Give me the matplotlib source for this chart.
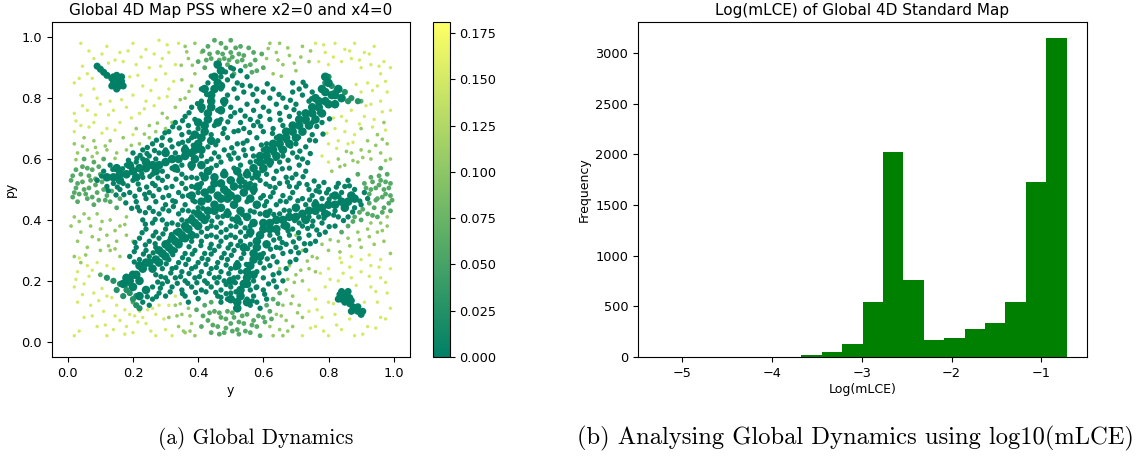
"""
plot.py - Global 4D Map PSS and histogram of Log(mLCE)
Points read off the reference by eye, grouped by colour value.
"""
import numpy as np
import matplotlib
matplotlib.use('Agg')
import matplotlib.pyplot as plt

# dense ridges of the map (mLCE about zero)
RIDGES = [(.17,.19),(.19,.2),(.21,.22),(.23,.24),(.25,.26),(.27,.27),(.29,.29),(.31,.31),(.33,.33),(.35,.35),
 (.37,.37),(.39,.39),(.41,.41),(.43,.43),(.45,.45),(.47,.47),(.49,.49),(.51,.51),(.53,.53),(.55,.55),
 (.57,.57),(.59,.59),(.61,.61),(.63,.63),(.65,.65),(.67,.67),(.69,.69),(.71,.71),(.73,.73),(.75,.75),
 (.77,.77),(.79,.79),(.81,.81),(.83,.83),
 (.46,.91),(.47,.89),(.45,.87),(.46,.85),(.45,.83),(.44,.81),(.44,.79),(.44,.77),(.43,.75),(.43,.73),
 (.42,.71),(.42,.69),(.41,.67),(.40,.65),(.39,.63),(.38,.62),(.36,.61),(.34,.6),(.32,.6),(.3,.59),
 (.28,.58),(.26,.58),(.24,.57),(.22,.57),(.2,.56),(.18,.55),(.16,.55),(.14,.54),(.12,.54),
 (.52,.11),(.52,.13),(.53,.15),(.53,.17),(.54,.19),(.55,.21),(.55,.23),(.56,.25),(.57,.27),(.57,.29),
 (.58,.31),(.58,.33),(.59,.35),(.6,.37),(.6,.39),(.62,.39),(.64,.4),(.66,.4),(.68,.41),(.7,.41),
 (.72,.42),(.74,.43),(.76,.43),(.78,.44),(.8,.45),(.82,.45),(.84,.46),(.86,.46),(.88,.47),
 (.39,.6),(.41,.58),(.43,.56),(.45,.54),(.47,.52),(.49,.47),(.51,.45),(.53,.43),(.55,.41),(.57,.39),
 (.44,.5),(.46,.48),(.48,.5),(.5,.48),(.52,.47),(.43,.47),(.47,.44),(.45,.52),(.5,.53),(.54,.49),
 (.78,.83),(.8,.85),(.79,.87),(.82,.81),(.84,.8),(.76,.8),(.24,.17),(.22,.15),(.2,.18),(.22,.2),
 (.42,.49),(.4,.51),(.41,.46),(.38,.48),(.56,.47),(.58,.45),(.55,.51),(.57,.5),(.52,.56),(.48,.55),
 (.45,.43),(.49,.42),(.52,.4),(.42,.54),(.38,.58),(.36,.63),(.41,.63),(.62,.37),(.61,.42),(.64,.37),
 (.18,.21),(.2,.22),(.22,.25),(.24,.26),(.26,.24),(.28,.26),(.3,.28),(.32,.3),(.34,.32),(.36,.34),
 (.38,.35),(.4,.38),(.42,.4),(.28,.3),(.3,.32),(.32,.34),(.34,.36),(.36,.38),(.38,.4),(.4,.42),
 (.59,.61),(.61,.63),(.63,.65),(.65,.67),(.67,.69),(.69,.71),(.71,.73),(.73,.75),(.75,.77),(.77,.79),
 (.58,.55),(.6,.57),(.62,.59),(.64,.61),(.66,.63),(.68,.65),(.7,.67),(.72,.69),(.74,.71),(.76,.73),
 (.78,.75),(.8,.78),(.82,.78),(.79,.82),(.47,.84),(.48,.79),(.47,.76),(.42,.83),(.41,.77),(.46,.72),
 (.4,.72),(.39,.68),(.44,.66),(.55,.19),(.5,.2),(.57,.22),(.52,.25),(.59,.28),(.54,.31),(.61,.32),
 (.56,.36),(.5,.14),(.55,.13),(.3,.62),(.27,.56),(.24,.59),(.21,.54),(.19,.58),(.16,.53),(.15,.57),
 (.33,.57),(.7,.44),(.73,.4),(.76,.45),(.79,.42),(.82,.48),(.85,.44),(.87,.48),(.67,.38)]

BLOBS = [(.09,.905),(.1,.895),(.11,.885),(.12,.875),(.135,.865),(.15,.86),(.165,.855),(.15,.84),(.16,.84),
 (.14,.85),(.14,.87),(.165,.87),(.135,.84),(.17,.84),(.15,.83),(.15,.875),
 (.835,.155),(.85,.15),(.865,.145),(.85,.135),(.84,.14),(.865,.125),(.88,.105),(.89,.1),(.9,.09),(.875,.115),
 (.84,.165),(.86,.165),(.83,.14),(.87,.135),(.85,.13),(.89,.115),(.87,.1),(.905,.1)]

# corner wedges of the ridges
WEDGES = [(.12,.21),(.14,.2),(.16,.19),(.18,.17),(.2,.14),(.21,.12),(.15,.17),(.17,.15),(.19,.16),(.21,.15),
 (.22,.11),(.18,.19),(.8,.87),(.81,.84),(.83,.83),(.85,.82),(.87,.8),(.84,.8),(.82,.82),(.79,.85),(.86,.79),(.89,.79)]

# scattered chaotic cloud around the ridges
CLOUD = [(.49,.86),(.52,.85),(.55,.87),(.51,.83),(.54,.82),(.69,.85),(.71,.83),(.73,.84),(.69,.82),(.72,.81),
 (.75,.82),(.47,.83),(.49,.81),(.52,.8),(.56,.84),(.58,.83),(.6,.82),(.63,.83),(.66,.8),(.62,.8),
 (.58,.79),(.55,.78),(.48,.78),(.5,.77),(.46,.76),(.53,.76),(.57,.76),(.6,.77),(.64,.78),(.67,.77),
 (.7,.78),(.74,.79),(.47,.73),(.5,.74),(.53,.72),(.56,.73),(.59,.74),(.62,.73),(.65,.75),(.68,.74),
 (.71,.75),(.75,.72),(.78,.72),(.41,.76),(.39,.73),(.4,.7),(.37,.71),(.45,.71),(.48,.7),(.51,.69),
 (.54,.7),(.57,.71),(.6,.69),(.63,.7),(.66,.71),(.69,.7),(.72,.69),(.75,.68),(.35,.68),(.37,.66),
 (.34,.65),(.38,.67),(.44,.68),(.46,.66),(.49,.67),(.52,.65),(.55,.66),(.58,.67),(.61,.65),(.64,.67),
 (.67,.66),(.7,.65),(.73,.64),(.76,.66),(.32,.64),(.3,.63),(.28,.62),(.33,.62),(.36,.64),(.43,.64),
 (.45,.62),(.48,.63),(.51,.62),(.54,.63),(.57,.61),(.6,.63),(.63,.62),(.66,.61),(.69,.62),(.72,.6),
 (.25,.61),(.27,.6),(.23,.6),(.21,.59),(.35,.58),(.38,.57),(.41,.61),(.44,.6),(.47,.59),(.5,.6),
 (.53,.58),(.56,.59),(.59,.6),(.62,.58),(.65,.59),(.68,.57),(.71,.58),(.15,.57),(.18,.58),(.26,.55),
 (.29,.56),(.32,.57),(.35,.55),(.38,.54),(.41,.55),(.44,.57),(.48,.56),(.51,.57),(.55,.56),(.58,.54),
 (.61,.55),(.64,.56),(.67,.54),(.7,.55),(.73,.56),(.14,.52),(.17,.52),(.2,.53),(.23,.54),(.26,.52),
 (.29,.53),(.32,.51),(.35,.52),(.38,.51),(.41,.52),(.53,.51),(.56,.52),(.59,.53),(.62,.51),(.65,.52),
 (.68,.51),(.71,.52),(.74,.5),(.77,.51),(.8,.5),(.16,.5),(.19,.49),(.22,.5),(.25,.49),(.28,.5),
 (.31,.48),(.34,.49),(.37,.48),(.4,.49),(.57,.49),(.6,.48),(.63,.49),(.66,.48),(.69,.49),(.72,.47),
 (.75,.48),(.78,.47),(.81,.48),(.84,.49),(.21,.46),(.24,.47),(.27,.46),(.3,.45),(.33,.46),(.36,.45),
 (.39,.46),(.55,.46),(.58,.45),(.61,.46),(.64,.45),(.67,.46),(.7,.44),(.73,.45),(.76,.46),(.82,.43),
 (.85,.44),(.88,.44),(.22,.43),(.25,.44),(.28,.42),(.31,.43),(.34,.42),(.37,.43),(.4,.44),(.43,.41),
 (.46,.41),(.49,.43),(.52,.41),(.56,.43),(.59,.42),(.62,.43),(.65,.42),(.68,.43),(.71,.39),(.74,.41),
 (.77,.41),(.8,.42),(.23,.4),(.26,.39),(.29,.4),(.32,.39),(.35,.4),(.38,.41),(.44,.38),(.47,.39),
 (.5,.38),(.53,.39),(.56,.38),(.63,.37),(.66,.38),(.69,.37),(.72,.38),(.75,.38),(.78,.39),(.24,.37),
 (.27,.36),(.3,.37),(.33,.36),(.36,.37),(.41,.36),(.44,.35),(.47,.36),(.5,.35),(.53,.36),(.56,.35),
 (.62,.35),(.65,.34),(.68,.35),(.71,.34),(.74,.35),(.22,.34),(.25,.33),(.28,.34),(.31,.33),(.38,.33),
 (.41,.33),(.44,.32),(.47,.33),(.5,.32),(.53,.33),(.56,.32),(.61,.32),(.64,.31),(.67,.32),(.7,.31),
 (.21,.31),(.24,.3),(.27,.31),(.33,.3),(.36,.29),(.39,.3),(.42,.29),(.45,.3),(.48,.29),(.51,.3),
 (.54,.29),(.6,.29),(.63,.28),(.66,.29),(.19,.28),(.22,.27),(.25,.28),(.31,.27),(.34,.26),(.37,.27),
 (.4,.26),(.43,.27),(.46,.26),(.49,.27),(.52,.26),(.59,.26),(.62,.25),(.29,.24),(.32,.24),(.35,.23),
 (.38,.24),(.41,.23),(.44,.24),(.47,.23),(.5,.24),(.53,.23),(.58,.23),(.6,.21),(.27,.22),(.3,.21),
 (.33,.21),(.36,.2),(.39,.21),(.42,.2),(.45,.21),(.48,.2),(.51,.21),(.57,.2),(.26,.18),(.29,.19),
 (.32,.18),(.35,.17),(.38,.18),(.41,.17),(.44,.18),(.47,.17),(.5,.18),(.56,.17),(.58,.18),(.28,.16),
 (.3,.15),(.36,.15),(.37,.13),(.46,.15),(.49,.14),(.5,.16),(.55,.14),(.57,.15),(.6,.17),(.58,.13),
 (.26,.14),(.23,.13),(.25,.12),(.47,.13),(.56,.12),(.59,.11),(.61,.14),(.64,.18),(.66,.2),(.63,.22),
 (.67,.24),(.7,.27),(.73,.3),(.76,.33),(.79,.36),(.82,.38),(.86,.41),(.83,.41),(.9,.45),(.92,.47),
 (.91,.49),(.88,.5),(.85,.51),(.86,.53),(.83,.52),(.2,.62),(.23,.63),(.26,.65),(.29,.67),(.31,.69),
 (.33,.72),(.36,.74),(.38,.77),(.41,.79),(.41,.83),(.43,.85),(.47,.87),(.5,.9),(.53,.89),(.11,.56),
 (.13,.58),(.12,.51),(.09,.53)]

# in-between points of the same cloud, less regular
CLOUD_EXTRA = [(.505,.873),(.535,.842),(.568,.812),(.612,.847),(.648,.812),(.683,.793),(.722,.852),(.748,.798),(.772,.752),(.803,.732),
 (.512,.752),(.544,.741),(.583,.722),(.617,.757),(.652,.728),(.694,.762),(.728,.723),(.764,.707),(.491,.722),(.523,.693),
 (.558,.687),(.592,.708),(.628,.684),(.677,.693),(.708,.671),(.742,.662),(.783,.682),(.372,.688),(.352,.655),(.385,.645),
 (.454,.647),(.476,.684),(.503,.637),(.538,.652),(.566,.634),(.594,.646),(.626,.643),(.652,.636),(.684,.642),(.712,.626),
 (.744,.618),(.266,.628),(.288,.645),(.314,.662),(.342,.702),(.243,.618),(.222,.612),(.463,.607),(.494,.612),(.523,.603),
 (.545,.612),(.578,.593),(.606,.592),(.638,.602),(.676,.596),(.704,.606),(.736,.588),(.168,.568),(.196,.576),(.227,.552),
 (.252,.543),(.277,.538),(.306,.543),(.337,.563),(.363,.538),(.396,.537),(.427,.592),(.456,.579),(.528,.546),(.566,.537),
 (.596,.562),(.632,.536),(.658,.568),(.688,.538),(.722,.542),(.756,.528),(.786,.523),(.152,.508),(.184,.512),(.216,.518),
 (.242,.508),(.268,.513),(.302,.506),(.332,.534),(.362,.503),(.392,.506),(.544,.523),(.574,.514),(.608,.518),(.636,.506),
 (.674,.524),(.702,.508),(.734,.516),(.762,.496),(.794,.489),(.824,.508),(.172,.483),(.206,.478),(.236,.484),(.262,.479),
 (.292,.474),(.322,.463),(.352,.478),(.384,.464),(.414,.438),(.592,.472),(.622,.476),(.652,.462),(.682,.472),(.706,.463),
 (.742,.466),(.772,.492),(.802,.468),(.832,.476),(.864,.512),(.214,.442),(.238,.424),(.262,.428),(.292,.436),(.324,.444),
 (.352,.432),(.386,.426),(.418,.402),(.442,.396),(.476,.412),(.504,.403),(.536,.418),(.572,.426),(.604,.447),(.632,.418),
 (.664,.432),(.696,.398),(.724,.403),(.752,.396),(.786,.406),(.816,.416),(.238,.386),(.268,.402),(.304,.386),(.338,.384),
 (.366,.396),(.428,.372),(.456,.376),(.486,.368),(.516,.378),(.544,.374),(.644,.356),(.676,.364),(.708,.358),(.736,.372),
 (.764,.367),(.228,.358),(.262,.348),(.292,.354),(.318,.352),(.348,.334),(.396,.348),(.426,.346),(.456,.344),(.486,.343),
 (.514,.343),(.546,.346),(.632,.334),(.658,.326),(.692,.328),(.726,.322),(.206,.326),(.238,.318),(.268,.322),(.306,.318),
 (.372,.312),(.408,.316),(.436,.308),(.464,.314),(.492,.308),(.522,.316),(.552,.306),(.622,.304),(.652,.308),(.684,.296),
 (.204,.296),(.232,.288),(.262,.292),(.322,.286),(.352,.276),(.382,.288),(.412,.274),(.44,.288),(.472,.276),(.502,.284),
 (.532,.274),(.612,.272),(.642,.262),(.204,.262),(.236,.252),(.302,.256),(.332,.244),(.362,.254),(.392,.246),(.424,.254),
 (.456,.244),(.486,.252),(.514,.243),(.548,.254),(.602,.242),(.286,.214),(.316,.226),(.346,.214),(.372,.224),(.404,.214),
 (.434,.224),(.464,.212),(.494,.224),(.522,.212),(.276,.196),(.306,.198),(.336,.192),(.368,.192),(.396,.194),(.428,.192),
 (.458,.194),(.486,.188),(.514,.194),(.578,.178),(.284,.176),(.314,.164),(.352,.158),(.392,.162),(.424,.164),(.454,.162),
 (.486,.158),(.516,.164),(.566,.134),(.604,.156),(.272,.148),(.244,.148),(.4,.142),(.47,.146),(.616,.19),(.632,.2),
 (.648,.226),(.682,.262),(.708,.292),(.744,.322),(.772,.352),(.802,.378),(.846,.398),(.874,.426),(.896,.462),(.212,.602),
 (.186,.596),(.244,.638),(.272,.662),(.298,.686),(.322,.706),(.352,.726),(.372,.752),(.398,.782),(.426,.812),(.44,.872),
 (.508,.896),(.484,.886),(.138,.566),(.104,.544),(.124,.496),(.148,.482),(.178,.456),(.196,.438)]

# green halo next to the cloud (value about 0.05)
HALO = [(.44,.93),(.46,.95),(.48,.93),(.5,.95),(.52,.92),(.54,.94),(.56,.91),(.47,.98),(.5,.99),(.53,.97),
 (.43,.97),(.45,.99),(.57,.95),(.49,.91),(.51,.88),(.42,.9),(.4,.92),(.58,.89),(.6,.9),
 (.03,.52),(.05,.5),(.07,.53),(.09,.49),(.11,.5),(.04,.55),(.06,.57),(.08,.59),(.1,.55),(.12,.48),
 (.02,.49),(.03,.46),(.06,.47),(.08,.45),(.01,.53),(.05,.6),(.13,.46),(.15,.44),(.16,.47),(.11,.6),
 (.93,.5),(.95,.47),(.97,.5),(.99,.48),(.94,.44),(.96,.53),(.98,.55),(.92,.42),(.9,.4),(.88,.41),
 (.95,.41),(.97,.44),(.99,.52),(.93,.54),(.91,.52),(.89,.55),(.86,.38),(.84,.36),(.96,.57),(.99,.43),
 (.44,.03),(.46,.05),(.48,.03),(.5,.06),(.52,.04),(.54,.06),(.56,.03),(.58,.05),(.47,.08),(.49,.1),
 (.51,.08),(.55,.09),(.57,.07),(.45,.1),(.43,.07),(.6,.08),(.62,.1),(.59,.02),(.41,.05),(.42,.12),
 (.44,.13),(.61,.12),(.63,.14),(.65,.16),(.4,.14),
 (.1,.22),(.2,.13),(.9,.79),
 (.455,.915),(.475,.945),(.495,.925),(.515,.965),(.535,.925),(.555,.965),(.575,.925),(.595,.945),(.435,.945),(.415,.955),
 (.485,.965),(.465,.925),(.505,.935),(.525,.945),(.545,.905),(.565,.885),(.425,.925),(.025,.505),(.045,.525),(.065,.505),
 (.085,.515),(.105,.525),(.035,.485),(.055,.485),(.075,.475),(.095,.465),(.115,.465),(.025,.565),(.045,.575),(.065,.545),
 (.085,.535),(.015,.475),(.135,.495),(.015,.545),(.075,.565),(.095,.575),(.925,.485),(.945,.505),(.965,.475),(.985,.505),
 (.905,.435),(.925,.455),(.945,.465),(.965,.425),(.985,.455),(.915,.505),(.935,.525),(.955,.545),(.975,.525),(.995,.465),
 (.875,.395),(.895,.425),(.935,.415),(.975,.485),(.955,.515),(.445,.055),(.465,.025),(.485,.075),(.505,.035),(.525,.065),
 (.545,.035),(.565,.055),(.585,.085),(.605,.065),(.465,.095),(.505,.095),(.535,.085),(.435,.095),(.415,.085),(.625,.075),
 (.485,.045),(.525,.025),(.645,.125),(.395,.105)]

# lighter greens towards the box edges (value about 0.1)
PALE = [(.32,.72),(.3,.7),(.27,.69),(.25,.67),(.22,.65),(.18,.63),(.15,.62),(.12,.63),(.09,.62),(.06,.63),
 (.03,.62),(.02,.65),(.05,.67),(.08,.66),(.13,.66),(.17,.67),(.21,.7),(.25,.71),(.29,.75),(.33,.77),
 (.36,.8),(.38,.84),(.35,.86),(.39,.88),(.37,.93),(.41,.95),(.39,.98),(.36,.97),(.61,.93),(.64,.95),
 (.62,.98),(.66,.91),(.68,.94),(.65,.98),(.7,.89),(.63,.88),(.72,.97),(.74,.92),(.9,.63),(.93,.6),
 (.96,.62),(.99,.6),(.92,.66),(.95,.68),(.98,.65),(.89,.59),(.87,.62),(.85,.58),(.83,.6),(.81,.56),
 (.9,.7),(.97,.72),(.7,.35),(.72,.3),(.75,.28),(.78,.32),(.8,.3),(.83,.33),(.86,.34),(.89,.36),
 (.92,.37),(.95,.36),(.98,.38),(.94,.32),(.97,.33),(.99,.29),(.9,.31),(.68,.25),(.7,.22),(.72,.2),
 (.74,.24),(.76,.23),(.65,.24),(.67,.17),(.69,.15),(.71,.12),(.66,.12),(.64,.09),(.67,.07),(.69,.05),
 (.65,.04),(.72,.08),(.62,.05),(.63,.02),(.66,.02),(.36,.03),(.38,.06),(.34,.05),(.35,.09),(.37,.11),
 (.33,.12),(.31,.08),(.39,.02),(.04,.36),(.07,.38),(.1,.37),(.13,.4),(.16,.38),(.18,.41),(.02,.41),
 (.05,.42),(.09,.42),(.12,.35),(.15,.33),(.18,.35),(.2,.33),(.03,.33),(.06,.31),(.1,.3),(.13,.3),
 (.16,.28),(.02,.28),(.04,.26),(.01,.38),(.98,.41),(.93,.39),(.96,.39),
 (.145,.602),(.115,.643),(.085,.638),(.045,.642),(.025,.598),(.075,.608),(.195,.645),(.235,.682),(.275,.718),(.305,.735),
 (.345,.795),(.372,.822),(.348,.908),(.382,.908),(.365,.952),(.615,.963),(.645,.925),(.675,.965),(.695,.915),(.655,.872),
 (.715,.935),(.745,.955),(.925,.625),(.945,.645),(.975,.595),(.905,.605),(.875,.595),(.965,.665),(.855,.625),(.835,.575),
 (.735,.265),(.765,.275),(.805,.335),(.835,.295),(.865,.315),(.895,.335),(.925,.345),(.965,.365),(.695,.195),(.715,.235),
 (.675,.205),(.685,.125),(.655,.085),(.705,.095),(.675,.035),(.375,.085),(.355,.035),(.335,.085),(.375,.035),(.345,.125),
 (.065,.405),(.105,.395),(.145,.365),(.175,.385),(.125,.315),(.075,.345),(.035,.395),(.145,.305),(.095,.335),(.055,.285)]

# yellow-green points in the four corners (value about 0.15)
CORNERS = [(.04,.98),(.08,.93),(.12,.97),(.16,.95),(.2,.98),(.24,.96),(.28,.99),(.31,.95),(.34,.98),(.06,.88),
 (.02,.85),(.04,.81),(.08,.83),(.17,.92),(.21,.91),(.25,.9),(.29,.93),(.33,.91),(.19,.87),(.23,.84),
 (.27,.86),(.31,.83),(.3,.88),(.2,.81),(.24,.79),(.28,.8),(.02,.75),(.06,.76),(.1,.78),(.14,.76),
 (.18,.77),(.22,.75),(.04,.71),(.08,.72),(.12,.7),(.16,.72),(.2,.68),(.09,.8),(.13,.79),(.02,.69),
 (.76,.98),(.79,.95),(.82,.98),(.85,.96),(.88,.98),(.91,.95),(.94,.97),(.97,.92),(.77,.92),(.8,.91),
 (.84,.92),(.87,.93),(.9,.9),(.93,.91),(.96,.88),(.99,.9),(.92,.85),(.95,.84),(.98,.82),(.9,.82),
 (.93,.78),(.96,.79),(.99,.76),(.87,.76),(.91,.74),(.94,.73),(.84,.74),(.82,.7),(.85,.69),(.88,.68),
 (.8,.65),(.83,.66),(.78,.61),(.8,.59),(.86,.65),
 (.02,.02),(.05,.08),(.09,.05),(.12,.02),(.16,.07),(.2,.03),(.24,.06),(.27,.02),(.3,.04),(.03,.13),
 (.07,.12),(.11,.1),(.15,.12),(.19,.09),(.23,.08),(.27,.09),(.28,.12),(.02,.18),(.05,.19),(.08,.16),
 (.12,.15),(.03,.23),(.06,.25),(.09,.26),(.12,.25),(.14,.24),(.32,.02),(.33,.15),(.31,.12),(.26,.11),
 (.18,.05),(.14,.04),(.22,.1),
 (.72,.02),(.76,.05),(.8,.02),(.84,.04),(.88,.02),(.92,.05),(.96,.08),(.99,.11),(.74,.1),(.78,.08),
 (.82,.09),(.95,.13),(.98,.16),(.93,.18),(.96,.21),(.99,.24),(.76,.14),(.8,.13),(.79,.18),(.83,.2),
 (.87,.21),(.9,.23),(.93,.25),(.96,.27),(.8,.24),(.84,.26),(.87,.28),(.9,.27),(.74,.17),(.91,.13),
 (.065,.955),(.105,.945),(.145,.925),(.185,.955),(.225,.935),(.265,.945),(.305,.975),(.045,.905),(.125,.915),(.035,.865),
 (.075,.865),(.215,.875),(.255,.825),(.285,.905),(.325,.855),(.045,.775),(.085,.745),(.125,.745),(.165,.795),(.195,.735),
 (.235,.765),(.265,.775),(.305,.805),(.025,.725),(.065,.705),(.105,.685),(.145,.695),
 (.785,.975),(.815,.935),(.865,.955),(.895,.925),(.925,.945),(.955,.905),(.975,.855),(.935,.825),(.885,.845),(.915,.775),
 (.965,.755),(.895,.715),(.935,.705),(.975,.695),(.855,.725),(.815,.735),(.875,.655),(.795,.685),(.825,.635),
 (.035,.035),(.075,.085),(.115,.055),(.145,.085),(.175,.025),(.215,.065),(.255,.035),(.295,.075),(.045,.155),(.095,.135),
 (.135,.145),(.175,.105),(.205,.085),(.245,.105),(.025,.205),(.065,.215),(.105,.175),(.035,.275),(.075,.235),
 (.745,.045),(.785,.035),(.825,.055),(.865,.075),(.905,.025),(.945,.045),(.975,.075),(.765,.105),(.815,.125),(.945,.165),
 (.975,.195),(.925,.215),(.885,.185),(.845,.225),(.805,.205),(.775,.225),(.955,.245),(.865,.245),(.925,.285),(.835,.275)]

HIST_COUNTS = [1, 1, 1, 1, 2, 2, 3, 15, 50, 130, 545, 2025, 765, 170, 190, 280, 340, 545, 1730, 3150]
HIST_LEFT, HIST_RIGHT = -5.26, -0.72

VAL_RIDGES, VAL_BLOBS, VAL_WEDGES, VAL_CLOUD, VAL_HALO, VAL_PALE, VAL_CORNERS = 0.001, 0.001, 0.025, 0.004, 0.06, 0.105, 0.15
VMAX = 0.181

GRUPOS = [(CORNERS, VAL_CORNERS, 6), (PALE, VAL_PALE, 7), (HALO, VAL_HALO, 12), (WEDGES, VAL_WEDGES, 20),
          (CLOUD, VAL_CLOUD, 15), (CLOUD_EXTRA, VAL_CLOUD, 15), (RIDGES, VAL_RIDGES, 38), (BLOBS, VAL_BLOBS, 26)]

fig = plt.figure(figsize=(11.44, 4.59), dpi=100)
W, H = 1144, 459

ax1 = fig.add_axes([51.5/W, 1-357/H, 358.5/W, 335/H])
for pts, val, size in GRUPOS:
    arr = np.array(pts)
    sc = ax1.scatter(arr[:, 0], arr[:, 1], c=np.full(len(arr), val), s=size, cmap='summer',
                     vmin=0, vmax=VMAX, linewidths=0)
ax1.set_xlim(-0.05, 1.05)
ax1.set_ylim(-0.05, 1.05)
ax1.set_title('Global 4D Map PSS where x2=0 and x4=0', fontsize=11, pad=5)
ax1.set_xlabel('y', fontsize=9, labelpad=3)
ax1.set_ylabel('py', fontsize=9, labelpad=3)
ax1.tick_params(labelsize=9.3)

cax = fig.add_axes([433/W, 1-357/H, 16.5/W, 335/H])
cb = fig.colorbar(sc, cax=cax)
cb.set_ticks([0, 0.025, 0.05, 0.075, 0.1, 0.125, 0.15, 0.175])
cb.ax.tick_params(labelsize=9.3)

ax2 = fig.add_axes([638/W, 1-357/H, 449/W, 335/H])
edges = np.linspace(HIST_LEFT, HIST_RIGHT, len(HIST_COUNTS)+1)
ax2.hist(edges[:-1], bins=edges, weights=HIST_COUNTS, color='green')
ax2.set_title('Log(mLCE) of Global 4D Standard Map', fontsize=11, pad=5)
ax2.set_xlabel('Log(mLCE)', fontsize=9, labelpad=2)
ax2.set_ylabel('Frequency', fontsize=9, labelpad=3)
ax2.tick_params(labelsize=9.3)

fig.text(255.5/W, 1-438/H, '(a) Global Dynamics', family='cmr10', fontsize=15.4, ha='center', va='center')
fig.text(855/W, 1-438/H, '(b) Analysing Global Dynamics using log10(mLCE)', family='cmr10', fontsize=17.7,
         ha='center', va='center')

fig.savefig('out.png', dpi=100)
